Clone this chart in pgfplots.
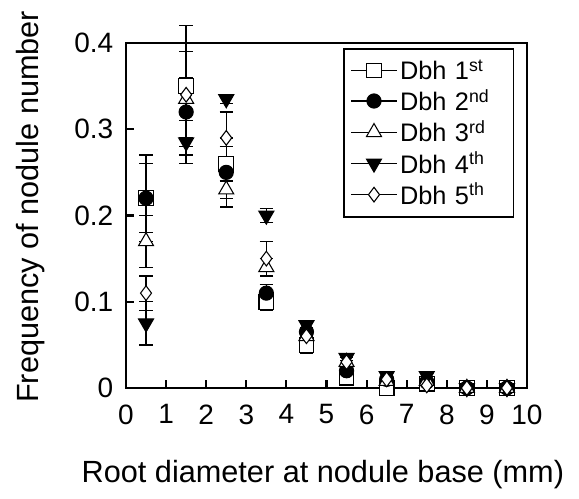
\documentclass[border=0pt]{standalone}
\usepackage{fontspec}
\setmainfont{Liberation Sans}
\usepackage{pgfplots}
\pgfplotsset{compat=1.18}
\begin{document}
\begin{tikzpicture}[x=1pt,y=1pt]
\path[use as bounding box] (-94.5,-83.25) rectangle (339.75,291);
\begin{axis}[
  at={(0,0)}, anchor=origin,
  scale only axis, width=300.75pt, height=258.75pt,
  xmin=0, xmax=10, ymin=0, ymax=0.4,
  xtick={0,1,...,10}, ytick={0,0.1,0.2,0.3,0.4},
  axis line style={line width=2.2pt},
  every tick/.style={line width=1.6pt, black},
  major tick length=6pt,
  tick align=inside,
  xtick pos=bottom, ytick pos=left,
  clip=false,
  font=\fontsize{21}{24}\selectfont,
  /pgf/number format/assume math mode=true,
  yticklabel style={/pgf/number format/fixed, /pgf/number format/precision=1, xshift=-6pt},
  xticklabel style={yshift=-9pt},
  xlabel={Root diameter at nodule base (mm)},
  ylabel={Frequency of nodule number},
  xlabel style={at={(axis description cs:0.491,-0.252)}, anchor=center, font=\fontsize{23}{26}\selectfont},
  ylabel style={at={(axis description cs:-0.238,0.525)}, anchor=center, rotate=0, font=\fontsize{23}{26}\selectfont},
  legend style={at={(0.968,0.985)}, anchor=north east, draw=black, line width=1.1pt,
     font=\fontsize{19}{21}\selectfont, row sep=2pt, inner xsep=5pt, inner ysep=6pt, cells={anchor=west, text width=78pt}},
  legend image code/.code={%
     \draw[black, line width=1pt] (0cm,0cm) -- (1.2cm,0cm);
     \draw plot[only marks] coordinates {(0.6cm,0cm)};},
  error bars/y dir=both, error bars/y explicit,
  error bars/error bar style={line width=1pt, black},
  error bars/error mark options={rotate=90, mark size=5pt, line width=1pt, black},
]
\addplot[only marks, mark=square*, mark size=5.5pt, mark options={fill=white, draw=black, line width=0.8pt}]
 table[x=x, y=y, y error=e] {
x y e
0.5 0.22 0.04
1.5 0.35 0.07
2.5 0.26 0.02
3.5 0.10 0.01
4.5 0.05 0.01
5.5 0.012 0.003
6.5 0.0 0.0
7.5 0.005 0.002
8.5 0.0 0.0
9.5 0.0 0.0
};
\addlegendentry{Dbh 1\textsuperscript{st}}
\addplot[only marks, mark=*, mark size=5.3pt, mark options={fill=black, draw=black, line width=0.8pt}]
 table[x=x, y=y, y error=e] {
x y e
0.5 0.22 0.05
1.5 0.32 0.04
2.5 0.25 0.04
3.5 0.11 0.01
4.5 0.065 0.005
5.5 0.02 0.005
6.5 0.01 0.003
7.5 0.007 0.002
8.5 0.0 0.0
9.5 0.0 0.0
};
\addlegendentry{Dbh 2\textsuperscript{nd}}
\addplot[only marks, mark=triangle*, mark size=6.5pt, mark options={fill=white, draw=black, line width=0.8pt}]
 table[x=x, y=y, y error=e] {
x y e
0.5 0.17 0.03
1.5 0.335 0.065
2.5 0.23 0.01
3.5 0.14 0.01
4.5 0.06 0.005
5.5 0.03 0.005
6.5 0.008 0.003
7.5 0.008 0.003
8.5 0.0 0.0
9.5 0.0 0.0
};
\addlegendentry{Dbh 3\textsuperscript{rd}}
\addplot[only marks, mark=triangle*, mark size=6.5pt, mark options={rotate=180, fill=black, draw=black, line width=0.8pt}]
 table[x=x, y=y, y error=e] {
x y e
0.5 0.075 0.025
1.5 0.285 0.025
2.5 0.335 0.005
3.5 0.20 0.008
4.5 0.073 0.003
5.5 0.035 0.003
6.5 0.014 0.003
7.5 0.014 0.003
8.5 0.0 0.0
9.5 0.0 0.0
};
\addlegendentry{Dbh 4\textsuperscript{th}}
\addplot[only marks, mark=diamond*, mark size=5.5pt, mark options={fill=white, draw=black, line width=0.8pt}]
 table[x=x, y=y, y error=e] {
x y e
0.5 0.11 0.02
1.5 0.34 0.05
2.5 0.29 0.03
3.5 0.15 0.02
4.5 0.06 0.005
5.5 0.03 0.005
6.5 0.01 0.003
7.5 0.003 0.002
8.5 0.0 0.0
9.5 0.0 0.0
};
\addlegendentry{Dbh 5\textsuperscript{th}}
\end{axis}
\end{tikzpicture}
\end{document}
